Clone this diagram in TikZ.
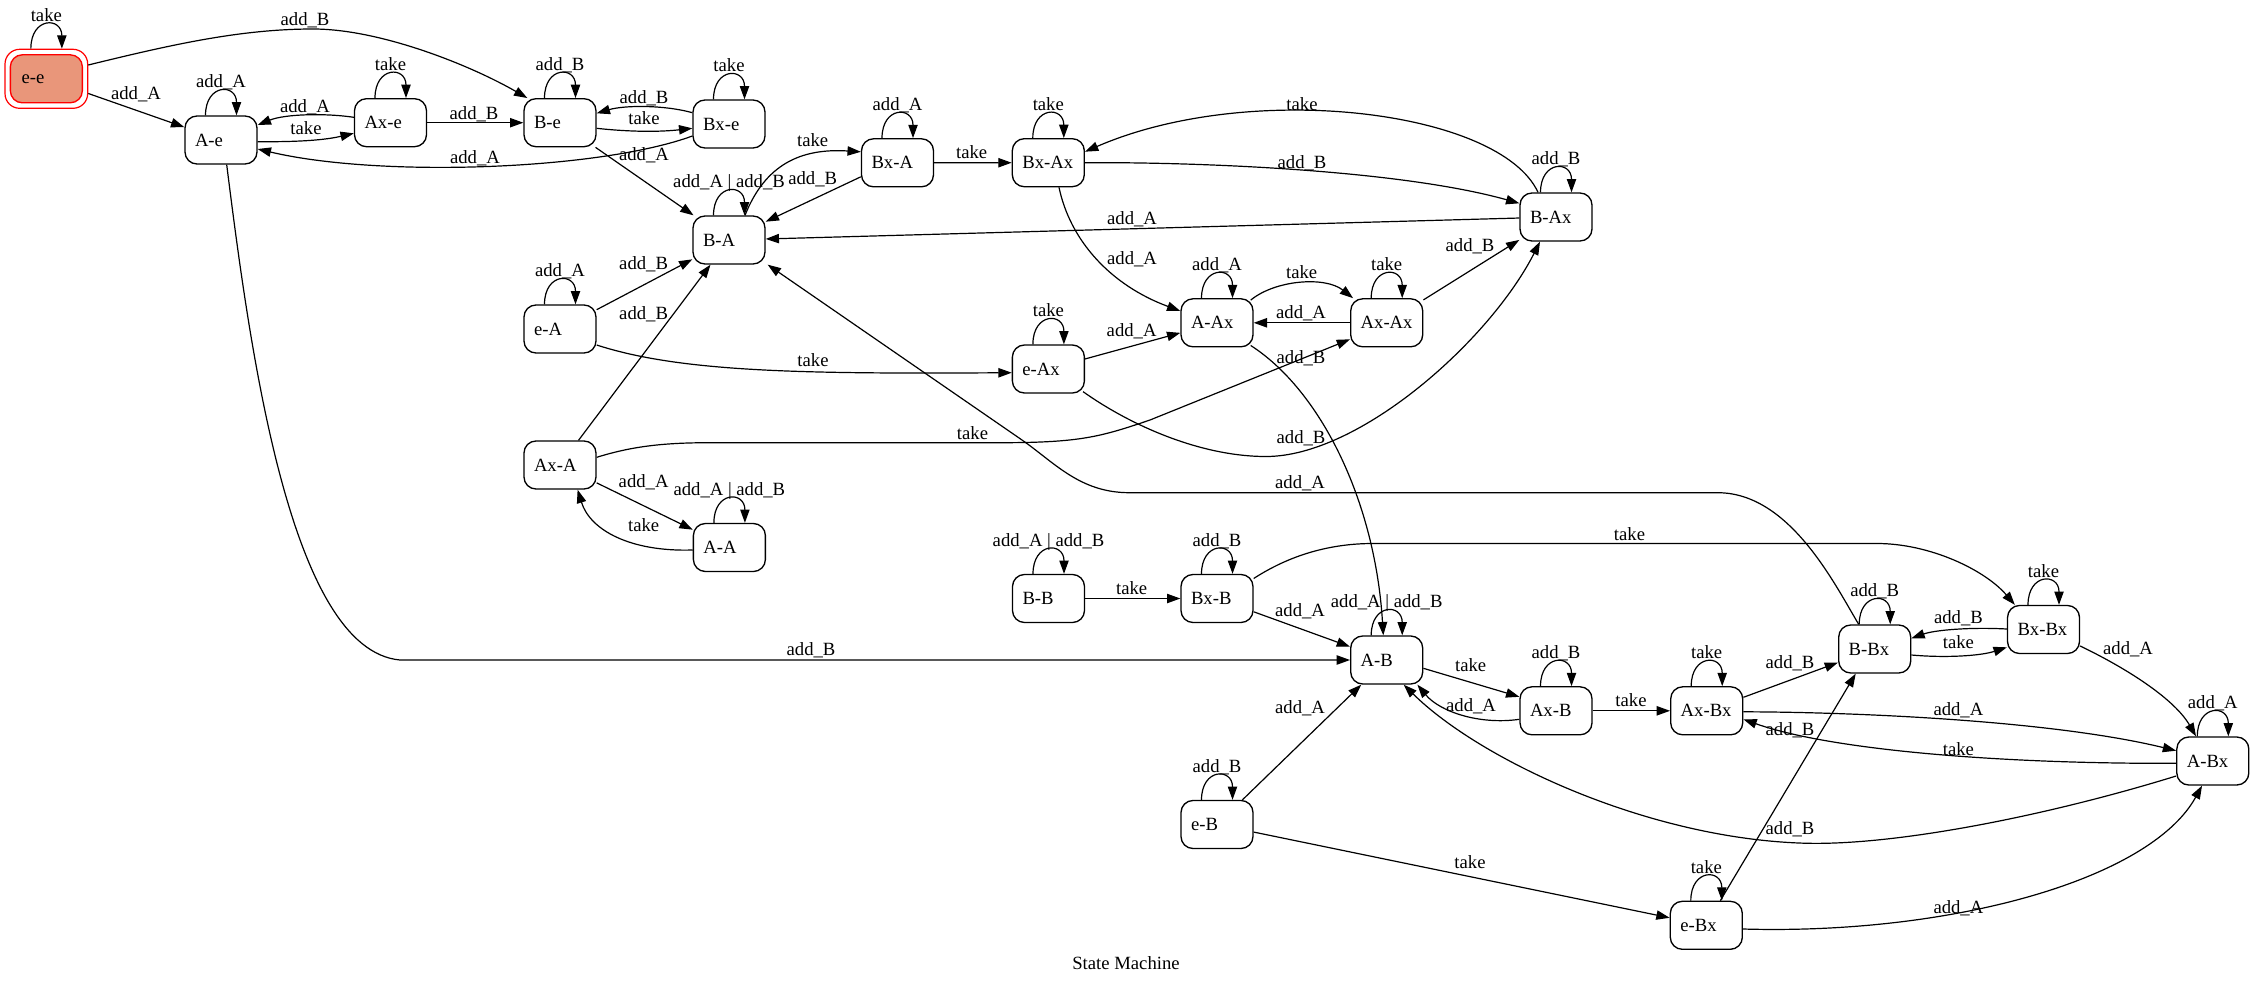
\documentclass[tikz,border=0pt]{standalone}
\usepackage{fontspec}
\setmainfont{Liberation Serif}
\usetikzlibrary{arrows.meta,calc}

\newcommand{\smfont}{\fontsize{14pt}{16pt}\selectfont}
% self transition drawn as an arch over the top of a state, with its label
\newcommand{\stloop}[2]{%
  \draw[edge] ($(#1.north)+(-15.5,0)$) .. controls +(0,-32) and +(0,-32) .. ($(#1.north)+(15.5,0)$);
  \node[lbl] (#1loop) at ($(#1.north)+(0,-34)$) {#2};}

\tikzset{
  state/.style={draw, line width=1pt, rounded corners=9pt, minimum height=36pt,
    text width=39pt, inner xsep=7.5pt, inner ysep=0pt, align=left, font=\smfont},
  edge/.style={-{Triangle[length=10pt,width=7pt]}, line width=0.9pt},
  lbl/.style={inner sep=0pt, text height=9.6pt, text depth=0pt, font=\smfont},
}

\begin{document}
\begin{tikzpicture}[x=0.75pt, y=-0.75pt]
\useasboundingbox (0,0) rectangle (2255,985);

% initial state: salmon fill with a double red border
\node[draw=red, line width=0.9pt, rounded corners=11pt, minimum width=62pt, minimum height=44.25pt] (ee) at (46.35,78.8) {};
\node[state, draw=red, fill={rgb,255:red,233;green,150;blue,122}, text width=37pt, inner xsep=8.5pt] (eein) at (46.35,78.8) {e-e};

% states
\node[state] (Ae)   at (221,140)     {A-e};
\node[state] (Axe)  at (390.5,122.7) {Ax-e};
\node[state] (Be)   at (560,122.7)   {B-e};
\node[state] (Bxe)  at (729,124)     {Bx-e};
\node[state] (BA)   at (729,240)     {B-A};
\node[state] (BxA)  at (897.5,162.8) {Bx-A};
\node[state] (BxAx) at (1048.3,162.7) {Bx-Ax};
\node[state] (BAx)  at (1556,217)    {B-Ax};
\node[state] (eA)   at (560,329)     {e-A};
\node[state] (AAx)  at (1217,322.8)  {A-Ax};
\node[state] (AxAx) at (1386.7,322.8) {Ax-Ax};
\node[state] (eAx)  at (1048.4,369)  {e-Ax};
\node[state] (AxA)  at (560,465)     {Ax-A};
\node[state] (AA)   at (729.4,547.5) {A-A};
\node[state] (BB)   at (1048.5,598.5) {B-B};
\node[state] (BxB)  at (1217,598.5)  {Bx-B};
\node[state] (AB)   at (1386.7,660)  {A-B};
\node[state] (AxB)  at (1556,710.8)  {Ax-B};
\node[state] (AxBx) at (1706.7,710.8) {Ax-Bx};
\node[state] (BBx)  at (1874.7,649)  {B-Bx};
\node[state] (BxBx) at (2043.5,629.5) {Bx-Bx};
\node[state] (ABx)  at (2212.8,761)  {A-Bx};
\node[state] (eB)   at (1217,824.5)  {e-B};
\node[state] (eBx)  at (1706.3,925.3) {e-Bx};

% ---- transitions ----
% e-e
\stloop{ee}{take}
\draw[edge] (ee) -- (Ae);
\draw[edge] ($(ee.east)+(0,-13.8)$) .. controls (170,45) and (240,29) .. (313,29)
  .. controls (380,29) and (470,65) .. ($(Be.north west)+(4,0)$);
% A-e
\stloop{Ae}{add\_A}
\draw[edge] ($(Ae.east)+(0,1.7)$) .. controls (300,142) and (325,140) .. ($(Axe.west)+(0,10.6)$);
\draw[edge] ($(Ae.south)+(5.7,0)$) .. controls (250,350) and (290,650) .. (400,660) -- (AB.west);
% Ax-e
\stloop{Axe}{take}
\draw[edge] ($(Axe.west)+(0,-5.4)$) .. controls (325,113) and (285,114) .. ($(Ae.east)+(0,-15)$);
\draw[edge] (Axe) -- (Be);
% B-e
\stloop{Be}{add\_B}
\draw[edge] ($(Be.east)+(0,5.6)$) .. controls (630,132) and (660,132) .. ($(Bxe.west)+(0,4.3)$);
\draw[edge] (Be) -- (BA);
% Bx-e
\stloop{Bxe}{take}
\draw[edge] ($(Bxe.west)+(0,-11.3)$) .. controls (665,105) and (625,105) .. ($(Be.east)+(0,-9.4)$);
\draw[edge] ($(Bxe.west)+(0,12)$) .. controls (600,170) and (380,178) .. ($(Ae.east)+(0,9)$);
% B-A
\stloop{BA}{add\_A \textbar{} add\_B}
\draw[edge] ($(BA.north)+(16,0)$) .. controls (765,165) and (800,148) .. ($(BxA.west)+(0,-11)$);
% Bx-A
\stloop{BxA}{add\_A}
\draw[edge] ($(BxA.west)+(0,14)$) -- ($(BA.east)+(0,-18.3)$);
\draw[edge] (BxA) -- (BxAx);
% Bx-Ax
\stloop{BxAx}{take}
\draw[edge] (BxAx.east) .. controls (1200,162) and (1400,170) .. ($(BAx.west)+(0,-13.7)$);
\draw[edge] ($(BxAx.south)+(10.7,0)$) .. controls (1070,240) and (1110,285) .. ($(AAx.west)+(0,-11.8)$);
% B-Ax
\stloop{BAx}{add\_B}
\draw[edge] ($(BAx.north)+(-18,0)$) .. controls (1500,110) and (1250,80) .. ($(BxAx.east)+(0,-11)$);
\draw[edge] (BAx) -- (BA);
% A-Ax
\stloop{AAx}{add\_A}
\draw[edge] ($(AAx.north east)+(-3,2)$) .. controls (1275,280) and (1325,276) .. ($(AxAx.north west)+(3,0)$);
\draw[edge] ($(AAx.south east)+(-3,-2)$) .. controls (1320,390) and (1375,500) .. ($(AB.north)+(-3.4,0)$);
% Ax-Ax
\stloop{AxAx}{take}
\draw[edge] (AxAx) -- (AAx);
\draw[edge] (AxAx) -- (BAx);
% e-A
\stloop{eA}{add\_A}
\draw[edge] (eA) -- (BA);
\draw[edge] ($(eA.east)+(0,16)$) .. controls (680,372) and (800,374) .. ($(eAx.west)+(0,3.7)$);
% e-Ax
\stloop{eAx}{take}
\draw[edge] (eAx) -- (AAx);
\draw[edge] ($(eAx.south east)+(-2,-2)$) .. controls (1130,425) and (1200,456.5) .. (1266,456.5)
  .. controls (1360,456.5) and (1490,340) .. ($(BAx.south)+(-16,0)$);
% Ax-A
\draw[edge] (AxA) -- (BA);
\draw[edge] ($(AxA.east)+(0,-7.7)$) .. controls (630,447) and (660,442.7) .. (709.6,442.7) -- (1000,442.7)
  .. controls (1080,442.7) and (1100,437) .. (1150,420) -- ($(AxAx.west)+(0,16.5)$);
\draw[edge] (AxA) -- (AA);
% A-A
\stloop{AA}{add\_A \textbar{} add\_B}
\draw[edge] ($(AA.west)+(0,2.5)$) .. controls (630,552) and (590,530) .. ($(AxA.south)+(17.6,0)$);
% B-Bx back to B-A
\draw[edge] ($(BBx.north)+(-16,0)$) .. controls (1835,585) and (1790,493) .. (1718,492.7) -- (1129.5,492.7)
  .. controls (1080,492.7) and (1055,463) .. (1022,440) -- ($(BA.south east)+(2,0)$);
% B-B
\stloop{BB}{add\_A \textbar{} add\_B}
\draw[edge] (BB) -- (BxB);
% Bx-B
\stloop{BxB}{add\_B}
\draw[edge] ($(BxB.east)+(0,-20)$) .. controls (1290,555) and (1330,543.5) .. (1373,543.5) -- (1877,543.5)
  .. controls (1930,543.5) and (1985,570) .. ($(BxBx.north west)+(8,0)$);
\draw[edge] (BxB) -- (AB);
% A-B
\stloop{AB}{add\_A \textbar{} add\_B}
\draw[edge] ($(AB.east)+(0,8.3)$) -- ($(AxB.west)+(0,-14)$);
% Ax-B
\stloop{AxB}{add\_B}
\draw[edge] ($(AxB.west)+(0,8.5)$) .. controls (1480,725) and (1440,712) .. ($(AB.south east)+(-6,0)$);
\draw[edge] (AxB) -- (AxBx);
% Ax-Bx
\stloop{AxBx}{take}
\draw[edge] (AxBx) -- (BBx);
\draw[edge] ($(AxBx.east)+(0,1)$) .. controls (1850,712) and (2050,720) .. ($(ABx.west)+(0,-10.3)$);
% A-Bx
\stloop{ABx}{add\_A}
\draw[edge] ($(ABx.west)+(0,2.3)$) .. controls (2000,764) and (1830,750) .. ($(AxBx.east)+(0,8.5)$);
\draw[edge] ($(ABx.west)+(0,15)$) .. controls (2050,815) and (1900,845) .. (1808.6,843.3)
  .. controls (1650,840) and (1480,760) .. ($(AB.south)+(17,0)$);
% B-Bx
\stloop{BBx}{add\_B}
\draw[edge] ($(BBx.east)+(0,6)$) .. controls (1945,658) and (1980,656) .. ($(BxBx.west)+(0,17.8)$);
% Bx-Bx
\stloop{BxBx}{take}
\draw[edge] ($(BxBx.west)+(0,-0.5)$) .. controls (1970,627) and (1935,630) .. ($(BBx.east)+(0,-10.7)$);
\draw[edge] ($(BxBx.east)+(0,16.5)$) .. controls (2130,670) and (2175,700) .. ($(ABx.north)+(-16.8,0)$);
% e-B
\stloop{eB}{add\_B}
\draw[edge] (eB) -- (AB);
\draw[edge] (eB) -- (eBx);
% e-Bx
\stloop{eBx}{take}
\draw[edge] ($(eBx.north)+(14,0)$) -- ($(BBx.south)+(-19,0)$);
\draw[edge] ($(eBx.east)+(0,3.7)$) .. controls (1950,935) and (2150,880) .. ($(ABx.south)+(-10.8,0)$);

% ---- transition labels ----
\node[lbl] (l01) at (136,93)     {add\_A};
\node[lbl] (l02) at (305,19)     {add\_B};
\node[lbl] (l03) at (305,106)    {add\_A};
\node[lbl] (l04) at (306,128)    {take};
\node[lbl] (l05) at (474,113)    {add\_B};
\node[lbl] (l06) at (644,97)     {add\_B};
\node[lbl] (l07) at (644,118)    {take};
\node[lbl] (l08) at (475,157)    {add\_A};
\node[lbl] (l09) at (644,154)    {add\_A};
\node[lbl] (l10) at (812.7,140)  {take};
\node[lbl] (l11) at (812.7,178)  {add\_B};
\node[lbl] (l12) at (971.7,151.7) {take};
\node[lbl] (l13) at (1302,161.7) {add\_B};
\node[lbl] (l14) at (1302,104)   {take};
\node[lbl] (l15) at (1132,218)   {add\_A};
\node[lbl] (l16) at (1132,257.7) {add\_A};
\node[lbl] (l17) at (1301.7,272.3) {take};
\node[lbl] (l18) at (1301,311.7) {add\_A};
\node[lbl] (l19) at (1470,245)   {add\_B};
\node[lbl] (l20) at (643.6,262.7) {add\_B};
\node[lbl] (l21) at (643.6,313.3) {add\_B};
\node[lbl] (l22) at (813,360)    {take};
\node[lbl] (l23) at (1131.6,330) {add\_A};
\node[lbl] (l24) at (1301,356.7) {add\_B};
\node[lbl] (l25) at (1301,436.7) {add\_B};
\node[lbl] (l26) at (972.5,432.7) {take};
\node[lbl] (l27) at (1300,482.3) {add\_A};
\node[lbl] (l28) at (643.6,480.7) {add\_A};
\node[lbl] (l29) at (643.6,525)  {take};
\node[lbl] (l30) at (811,649.3)  {add\_B};
\node[lbl] (l31) at (1131.7,588.3) {take};
\node[lbl] (l32) at (1629.5,534) {take};
\node[lbl] (l33) at (1300,610)   {add\_A};
\node[lbl] (l34) at (1470.7,665) {take};
\node[lbl] (l35) at (1471,705)   {add\_A};
\node[lbl] (l36) at (1631,700)   {take};
\node[lbl] (l37) at (1790,661.7) {add\_B};
\node[lbl] (l38) at (1790,729.3) {add\_B};
\node[lbl] (l39) at (1958.4,709.3) {add\_A};
\node[lbl] (l40) at (1958.4,749) {take};
\node[lbl] (l41) at (1790,827.7) {add\_B};
\node[lbl] (l42) at (1958.4,617.3) {add\_B};
\node[lbl] (l43) at (1958.4,641.7) {take};
\node[lbl] (l44) at (2128,648.3) {add\_A};
\node[lbl] (l45) at (1300,706.7) {add\_A};
\node[lbl] (l46) at (1470,861.7) {take};
\node[lbl] (l47) at (1958.4,906.7) {add\_A};

% caption
\node[lbl] (title) at (1126,963) {State Machine};
\end{tikzpicture}
\end{document}
